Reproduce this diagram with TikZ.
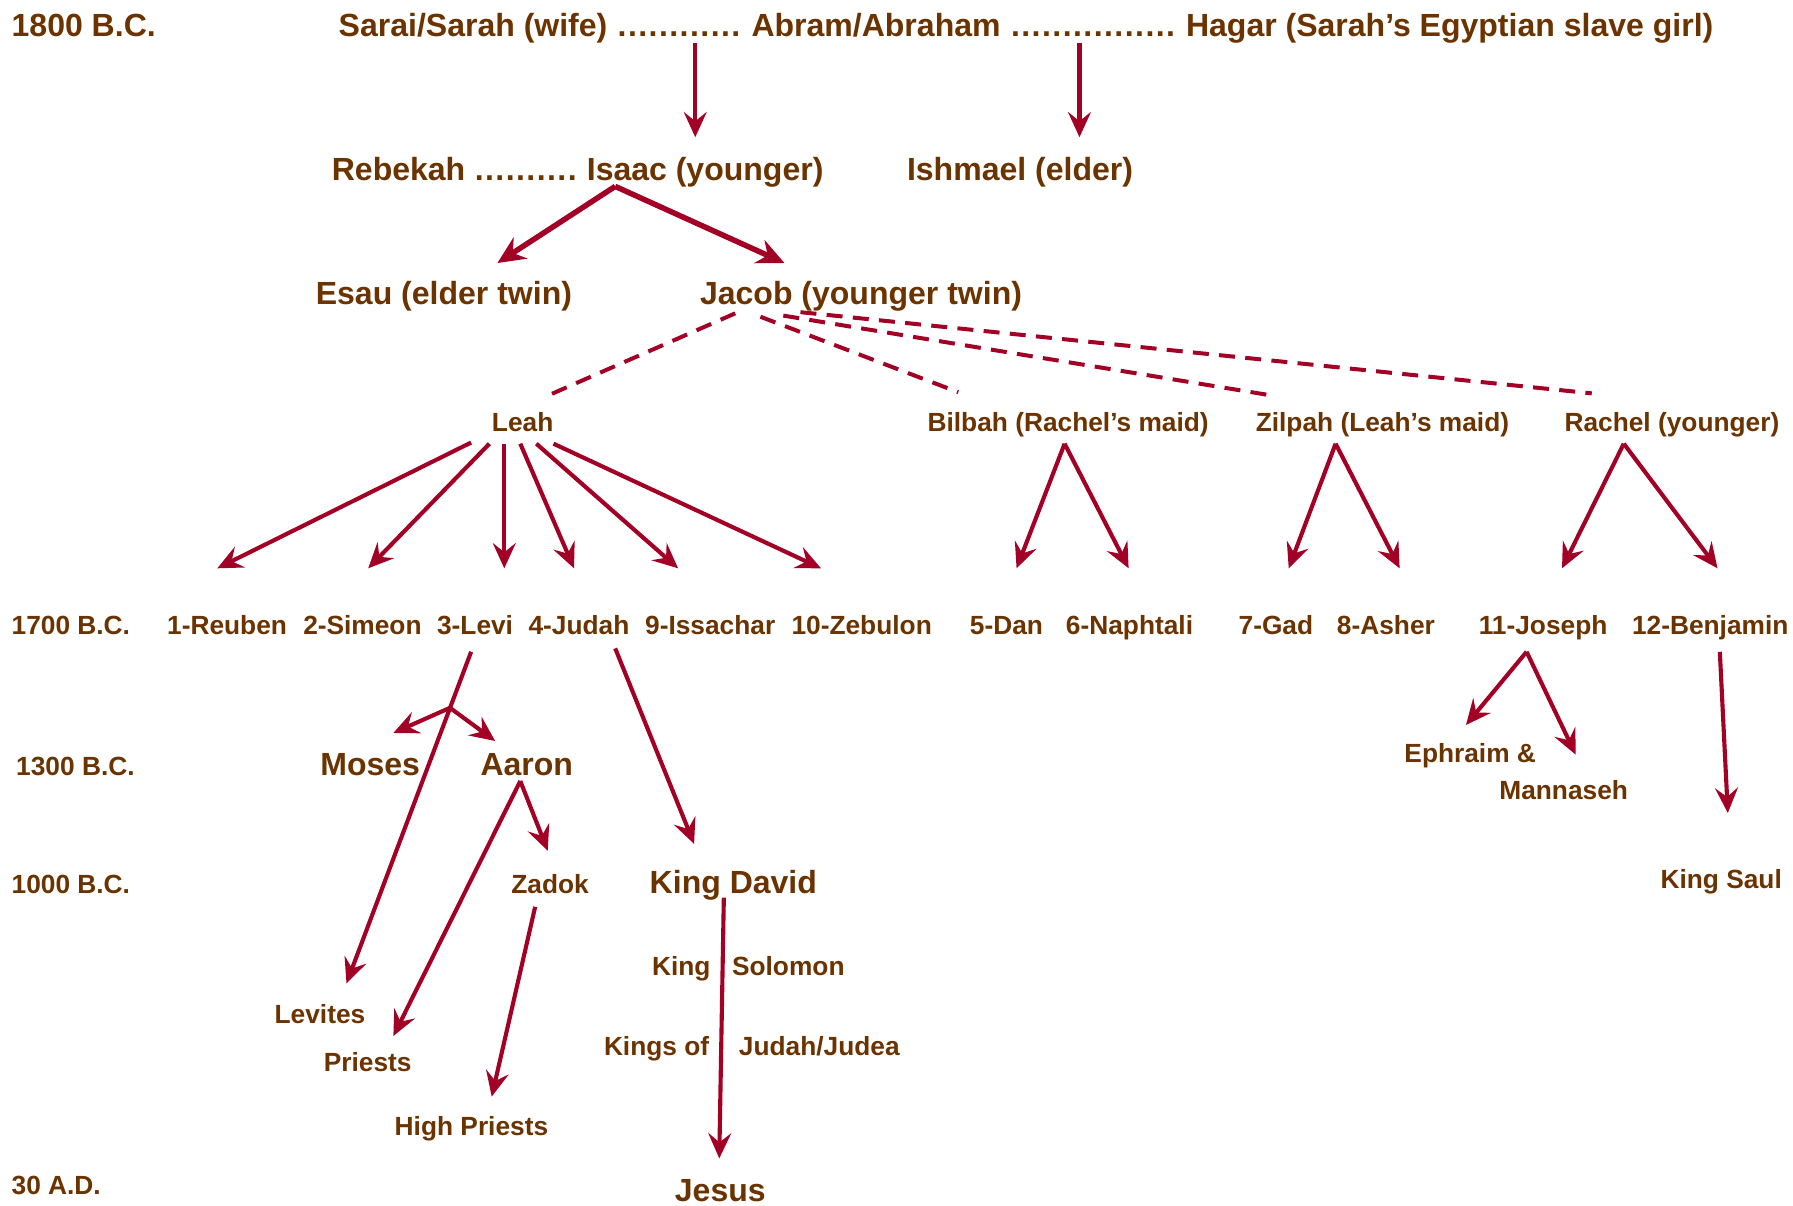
\documentclass[tikz,border=0pt]{standalone}
\usepackage{fontspec}
\setmainfont{Liberation Sans}
\usetikzlibrary{arrows.meta}
\definecolor{brn}{RGB}{107,51,0}
\definecolor{arr}{RGB}{163,0,38}
\tikzset{
  big/.style={font=\fontsize{28}{32}\selectfont\bfseries, text=brn, inner sep=0pt, anchor=base west},
  sml/.style={font=\fontsize{23}{27}\selectfont\bfseries, text=brn, inner sep=0pt, anchor=base west},
  dotsty/.style={font=\fontsize{28}{32}\selectfont\bfseries\addfontfeatures{LetterSpace=4.5}, text=brn, inner sep=0pt, anchor=base west},
  arrw/.style={draw=arr, line width=3.6pt, -{Stealth[length=22pt, width=20pt, inset=8pt]}},
  arrwb/.style={draw=arr, line width=4.8pt, -{Stealth[length=24pt, width=22pt, inset=8pt]}},
  dashln/.style={draw=arr, line width=3.5pt, dash pattern=on 14pt off 9pt},
}
\begin{document}
\begin{tikzpicture}[x=1pt, y=-1pt]
\useasboundingbox[fill=white] (0,0) rectangle (1568,1054);
% Row 1
\node[big] (d1800) at (10,32) {1800 B.C.};
\node[big] (sarah) at (296,32) {Sarai/Sarah (wife)};
\node[dotsty] (dots1) at (540,32) {............};
\node[big] (abram) at (657,32) {Abram/Abraham};
\node[dotsty] (dots2) at (884,32) {................};
\node[big] (hagar) at (1037,32) {Hagar (Sarah’s Egyptian slave girl)};
% Row 2
\node[big] (rebekah) at (290,158) {Rebekah};
\node[dotsty] (dots3) at (415,158) {..........};
\node[big] (isaac) at (513,158) {Isaac (younger)};
\node[big] (ishmael) at (793,158) {Ishmael (elder)};
% Row 3
\node[big] (esau) at (276,266) {Esau (elder twin)};
\node[big] (jacob) at (612,266) {Jacob (younger twin)};
% Row 4
\node[sml] (leah) at (430,377) {Leah};
\node[sml] (bilbah) at (811,377) {Bilbah (Rachel’s maid)};
\node[sml] (zilpah) at (1098,377) {Zilpah (Leah’s maid)};
\node[sml] (rachel) at (1368,377) {Rachel (younger)};
% Row 5
\node[sml] (d1700) at (10,555) {1700 B.C.};
\node[sml] (reuben) at (146,555) {1-Reuben};
\node[sml] (simeon) at (265,555) {2-Simeon};
\node[sml] (levi) at (382,555) {3-Levi};
\node[sml] (judah) at (462,555) {4-Judah};
\node[sml] (issachar) at (564,555) {9-Issachar};
\node[sml] (zebulon) at (692,555) {10-Zebulon};
\node[sml] (dan) at (848,555) {5-Dan};
\node[sml] (naphtali) at (932,555) {6-Naphtali};
\node[sml] (gad) at (1083,555) {7-Gad};
\node[sml] (asher) at (1169,555) {8-Asher};
\node[sml] (joseph) at (1293,555) {11-Joseph};
\node[sml] (benjamin) at (1427,555) {12-Benjamin};
% Row 6
\node[sml] (d1300) at (14,678) {1300 B.C.};
\node[big] (moses) at (280,678) {Moses};
\node[big] (aaron) at (420,678) {Aaron};
\node[sml] (ephraim) at (1228,667) {Ephraim \&};
\node[sml] (mannaseh) at (1311,699) {Mannaseh};
% Row 7
\node[sml] (d1000) at (10,781) {1000 B.C.};
\node[sml] (zadok) at (447,781) {Zadok};
\node[big] (david) at (568,781) {King David};
\node[sml] (saul) at (1452,777) {King Saul};
\node[sml] (king) at (570,853) {King};
\node[sml] (solomon) at (640,853) {Solomon};
\node[sml] (kingsof) at (528,923) {Kings of};
\node[sml] (judea) at (646,923) {Judah/Judea};
% Row 8
\node[sml] (levites) at (240,895) {Levites};
\node[sml] (priests) at (283,937) {Priests};
\node[sml] (highpriests) at (345,993) {High Priests};
\node[sml] (d30) at (10,1045) {30 A.D.};
\node[big] (jesus) at (590,1051) {Jesus};

% connector coordinates
\coordinate (abram-s) at (608,38);  \coordinate (isaac-n) at (608,120);
\coordinate (hagar-s) at (944,38);  \coordinate (ishmael-n) at (944,120);
\coordinate (isaac-s) at (538,163); \coordinate (esau-n) at (435,230); \coordinate (jacob-n) at (686,230);
\coordinate (jacob-s1) at (643,274); \coordinate (leah-n) at (479,346);
\coordinate (jacob-s2) at (665,277); \coordinate (bilbah-n) at (838,343);
\coordinate (jacob-s3) at (685,276); \coordinate (zilpah-n) at (1113,346);
\coordinate (jacob-s4) at (700,273); \coordinate (rachel-n) at (1392,344);
\coordinate (leah-s1) at (412,387); \coordinate (reuben-n) at (190,497);
\coordinate (leah-s2) at (428,388); \coordinate (simeon-n) at (322,497);
\coordinate (leah-s3) at (441,388); \coordinate (levi-n) at (441,497);
\coordinate (leah-s4) at (455,388); \coordinate (judah-n) at (502,497);
\coordinate (leah-s5) at (469,388); \coordinate (issachar-n) at (593,497);
\coordinate (leah-s6) at (484,388); \coordinate (zebulon-n) at (718,497);
\coordinate (bilbah-s) at (931,388); \coordinate (dan-n) at (889,497); \coordinate (naphtali-n) at (987,497);
\coordinate (zilpah-s) at (1168,388); \coordinate (gad-n) at (1127,497); \coordinate (asher-n) at (1224,497);
\coordinate (rachel-s) at (1420,388); \coordinate (joseph-n) at (1366,497); \coordinate (benjamin-n) at (1502,497);
\coordinate (levi-s) at (412,570); \coordinate (levites-n) at (303,860);
\coordinate (levi-br) at (393.5,619); \coordinate (moses-n) at (344,641); \coordinate (aaron-n) at (433,648);
\coordinate (aaron-s) at (455,683); \coordinate (zadok-n) at (479,744); \coordinate (priests-n) at (344,906);
\coordinate (zadok-s) at (468,793); \coordinate (highpriests-n) at (430,959);
\coordinate (judah-s) at (538,567); \coordinate (david-n) at (607,738);
\coordinate (david-s) at (633,785); \coordinate (jesus-n) at (629,1013);
\coordinate (joseph-s) at (1335,570); \coordinate (ephraim-n) at (1282,634); \coordinate (mannaseh-n) at (1378,660);
\coordinate (benjamin-s) at (1504,570); \coordinate (saul-n) at (1511,711);

% connectors
\draw[arrw] (abram-s) -- (isaac-n);
\draw[arrw] (hagar-s) -- (ishmael-n);
\draw[arrwb] (isaac-s) -- (esau-n);
\draw[arrwb] (isaac-s) -- (jacob-n);
\draw[dashln] (jacob-s1) -- (leah-n);
\draw[dashln] (jacob-s2) -- (bilbah-n);
\draw[dashln] (jacob-s3) -- (zilpah-n);
\draw[dashln] (jacob-s4) -- (rachel-n);
\draw[arrw] (leah-s1) -- (reuben-n);
\draw[arrw] (leah-s2) -- (simeon-n);
\draw[arrw] (leah-s3) -- (levi-n);
\draw[arrw] (leah-s4) -- (judah-n);
\draw[arrw] (leah-s5) -- (issachar-n);
\draw[arrw] (leah-s6) -- (zebulon-n);
\draw[arrw] (bilbah-s) -- (dan-n);
\draw[arrw] (bilbah-s) -- (naphtali-n);
\draw[arrw] (zilpah-s) -- (gad-n);
\draw[arrw] (zilpah-s) -- (asher-n);
\draw[arrw] (rachel-s) -- (joseph-n);
\draw[arrw] (rachel-s) -- (benjamin-n);
\draw[arrw] (levi-s) -- (levites-n);
\draw[arrw] (levi-br) -- (moses-n);
\draw[arrw] (levi-br) -- (aaron-n);
\draw[arrw] (aaron-s) -- (zadok-n);
\draw[arrw] (aaron-s) -- (priests-n);
\draw[arrw] (zadok-s) -- (highpriests-n);
\draw[arrw] (judah-s) -- (david-n);
\draw[arrw] (david-s) -- (jesus-n);
\draw[arrw] (joseph-s) -- (ephraim-n);
\draw[arrw] (joseph-s) -- (mannaseh-n);
\draw[arrw] (benjamin-s) -- (saul-n);
\end{tikzpicture}
\end{document}
